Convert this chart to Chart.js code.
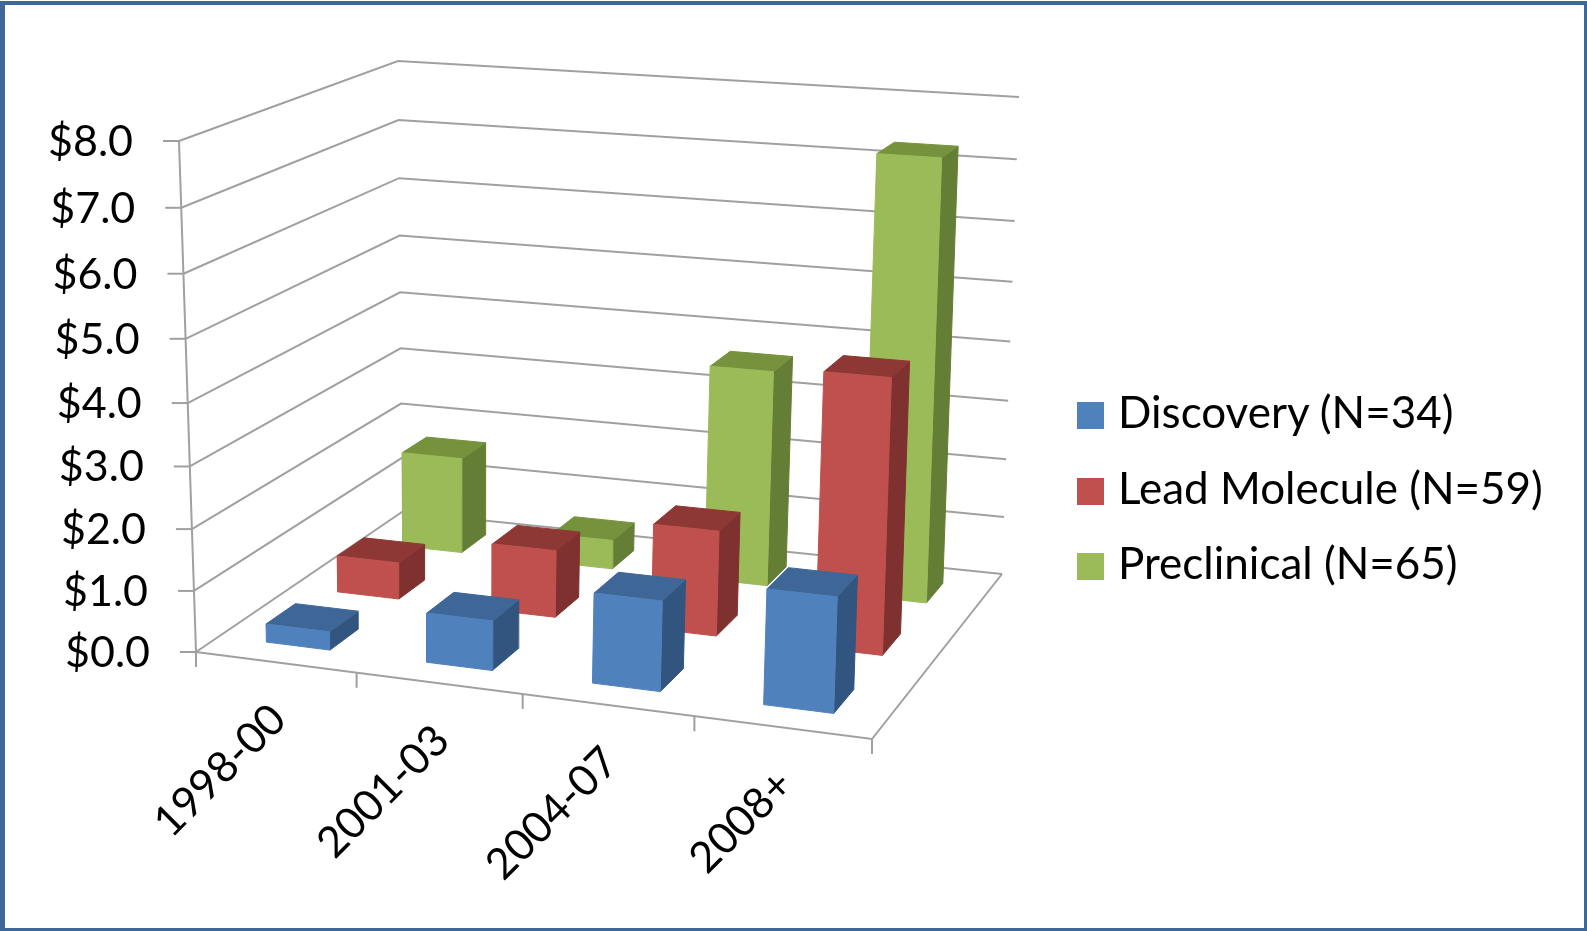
<!DOCTYPE html>
<html>
<head>
<meta charset="utf-8">
<script src="https://cdn.jsdelivr.net/npm/chart.js@4"></script>
<style>
    html, body { margin: 0; padding: 0; background: #fff; }
    #wrap { position: relative; width: 1587px; height: 931px; overflow: hidden; }
    #frame { position: absolute; left: 0; top: 1px; right: 0; bottom: 0; border-style: solid; border-color: #3f6797; border-width: 4px 3px 3px 5px; pointer-events: none; }
    #legend { position: absolute; left: 1077px; top: 383px; font: 44px/56px Lato, "Noto Sans", sans-serif; color: #000; white-space: nowrap; }
    #legend div { height: 56px; margin-bottom: 19.5px; }
    #legend i { display: inline-block; width: 27px; height: 27px; margin-right: 14px; position: relative; top: 1px; }
</style>
</head>
<body>
<div id="wrap">
    <canvas id="chart" width="1587" height="931"></canvas>
    <div id="legend"></div>
    <div id="frame"></div>
</div>
<script>
const categories = ['1998-00', '2001-03', '2004-07', '2008+'];
const seriesNames = ['Discovery (N=34)', 'Lead Molecule (N=59)', 'Preclinical (N=65)'];
const discovery = [0.3, 0.8, 1.43, 1.8];
const leadMolecule = [0.62, 1.12, 1.73, 4.43];
const preclinical = [1.67, 0.5, 3.65, 7.3];
const yTicks = [0, 1, 2, 3, 4, 5, 6, 7, 8];
const yTickLabels = ['$0.0', '$1.0', '$2.0', '$3.0', '$4.0', '$5.0', '$6.0', '$7.0', '$8.0'];

const seriesValues = [discovery, leadMolecule, preclinical];
const seriesColors = [
    { front: '#4f81bd', top: '#3e6696', side: '#31557f' },
    { front: '#c0504d', top: '#8e3836', side: '#7f3130' },
    { front: '#9bbb59', top: '#76923c', side: '#647e35' }
];
const gridColor = '#a0a0a0';
const fontName = 'Lato, "Noto Sans", sans-serif';
const yMax = 8;

// corners of the chart box as seen on screen: front-left, front-right, back-right, back-left
const floorCorners = [[196, 652], [872, 739], [1002, 574], [402, 512]];
const topCorners = [[179, 141], [889, 188], [1019, 97], [398, 61]];
const heightBend = -0.05;
const categoryWarp = 0.034;

function makeHomography(c) {
    const dx1 = c[1][0] - c[2][0], dx2 = c[3][0] - c[2][0], sx = c[0][0] - c[1][0] + c[2][0] - c[3][0];
    const dy1 = c[1][1] - c[2][1], dy2 = c[3][1] - c[2][1], sy = c[0][1] - c[1][1] + c[2][1] - c[3][1];
    const det = dx1 * dy2 - dx2 * dy1;
    const g = (sx * dy2 - dx2 * sy) / det;
    const h = (dx1 * sy - sx * dy1) / det;
    return (u, w) => {
        const d = g * u + h * w + 1;
        return [
            ((c[1][0] - c[0][0] + g * c[1][0]) * u + (c[3][0] - c[0][0] + h * c[3][0]) * w + c[0][0]) / d,
            ((c[1][1] - c[0][1] + g * c[1][1]) * u + (c[3][1] - c[0][1] + h * c[3][1]) * w + c[0][1]) / d
        ];
    };
}

const floorMap = makeHomography(floorCorners);
const topMap = makeHomography(topCorners);

// u: along the categories, w: into the depth, both 0..1, v: the value
function project(u, w, v) {
    const uw = u + categoryWarp * u * (1 - u);
    const a = floorMap(uw, w);
    const b = topMap(uw, w);
    const t = v / yMax;
    const s = t * (1 + heightBend) / (1 + heightBend * t);
    return { x: a[0] + (b[0] - a[0]) * s, y: a[1] + (b[1] - a[1]) * s };
}

function lineDataset(points) {
    return {
        type: 'line',
        data: points,
        borderColor: gridColor,
        borderWidth: 2,
        pointRadius: 0,
        fill: false,
        tension: 0,
        clip: false
    };
}

function faceDataset(points, color) {
    return {
        type: 'line',
        data: points.concat([points[0]]),
        borderColor: color,
        backgroundColor: color,
        borderWidth: 1,
        pointRadius: 0,
        fill: false,
        tension: 0,
        clip: false,
        isFace: true
    };
}

function buildDatasets() {
    const sets = [];

    // walls
    yTicks.forEach(v => {
        sets.push(lineDataset([project(0, 0, v), project(0, 1, v), project(1, 1, v)]));
        const p = project(0, 0, v);
        sets.push(lineDataset([{ x: p.x - 16, y: p.y }, p]));
    });
    sets.push(lineDataset(yTicks.map(v => project(0, 0, v))));

    // floor and the ticks under it
    sets.push(lineDataset([project(0, 0, 0), project(1, 0, 0), project(1, 1, 0)]));
    for (let i = 0; i <= categories.length; i++) {
        const p = project(i / categories.length, 0, 0);
        sets.push(lineDataset([p, { x: p.x, y: p.y + 15 }]));
    }

    // bars, back row first
    for (let s = seriesValues.length - 1; s >= 0; s--) {
        const w0 = (s + 0.3) / seriesValues.length;
        const w1 = (s + 0.7) / seriesValues.length;
        seriesValues[s].forEach((value, i) => {
            const u0 = (i + 0.3) / categories.length;
            const u1 = (i + 0.7) / categories.length;
            const color = seriesColors[s];
            sets.push(faceDataset([project(u1, w0, 0), project(u1, w1, 0), project(u1, w1, value), project(u1, w0, value)], color.side));
            sets.push(faceDataset([project(u0, w0, value), project(u1, w0, value), project(u1, w1, value), project(u0, w1, value)], color.top));
            sets.push(faceDataset([project(u0, w0, 0), project(u1, w0, 0), project(u1, w0, value), project(u0, w0, value)], color.front));
        });
    }

    sets.forEach((set, i) => { set.order = -i; });
    return sets;
}

const facePlugin = {
    id: 'faces',
    beforeDatasetDraw(chart, args) {
        const set = chart.data.datasets[args.index];
        if (!set.isFace) return;
        const pts = args.meta.data;
        const ctx = chart.ctx;
        ctx.save();
        ctx.fillStyle = set.backgroundColor;
        ctx.beginPath();
        pts.forEach((pt, i) => i ? ctx.lineTo(pt.x, pt.y) : ctx.moveTo(pt.x, pt.y));
        ctx.closePath();
        ctx.fill();
        ctx.restore();
    }
};

const labelPlugin = {
    id: 'boxLabels',
    afterDatasetsDraw(chart) {
        const ctx = chart.ctx;
        const sx = chart.scales.x;
        const sy = chart.scales.y;
        ctx.save();
        ctx.fillStyle = '#000';
        ctx.font = '43px ' + fontName;
        ctx.textAlign = 'right';
        ctx.textBaseline = 'middle';
        yTicks.forEach((v, i) => {
            const p = project(0, 0, v);
            ctx.fillText(yTickLabels[i], sx.getPixelForValue(p.x) - 46, sy.getPixelForValue(p.y) + 1);
        });
        categories.forEach((name, i) => {
            const p = project((i + 0.5) / categories.length, 0, 0);
            ctx.save();
            ctx.translate(sx.getPixelForValue(p.x) + 3, sy.getPixelForValue(p.y) + 50);
            ctx.rotate(-Math.PI / 4);
            ctx.fillText(name, 0, 0);
            ctx.restore();
        });
        ctx.restore();
    }
};

seriesNames.forEach((name, i) => {
    const row = document.createElement('div');
    const box = document.createElement('i');
    box.style.background = seriesColors[i].front;
    row.appendChild(box);
    row.appendChild(document.createTextNode(name));
    document.getElementById('legend').appendChild(row);
});

new Chart(document.getElementById('chart').getContext('2d'), {
    data: { datasets: buildDatasets() },
    plugins: [facePlugin, labelPlugin],
    options: {
        responsive: false,
        animation: false,
        events: [],
        layout: { padding: 0 },
        scales: {
            x: { type: 'linear', min: 0, max: 1587, display: false },
            y: { type: 'linear', min: 0, max: 931, reverse: true, display: false }
        },
        plugins: {
            tooltip: { enabled: false },
            legend: { display: false }
        }
    }
});
</script>
</body>
</html>
